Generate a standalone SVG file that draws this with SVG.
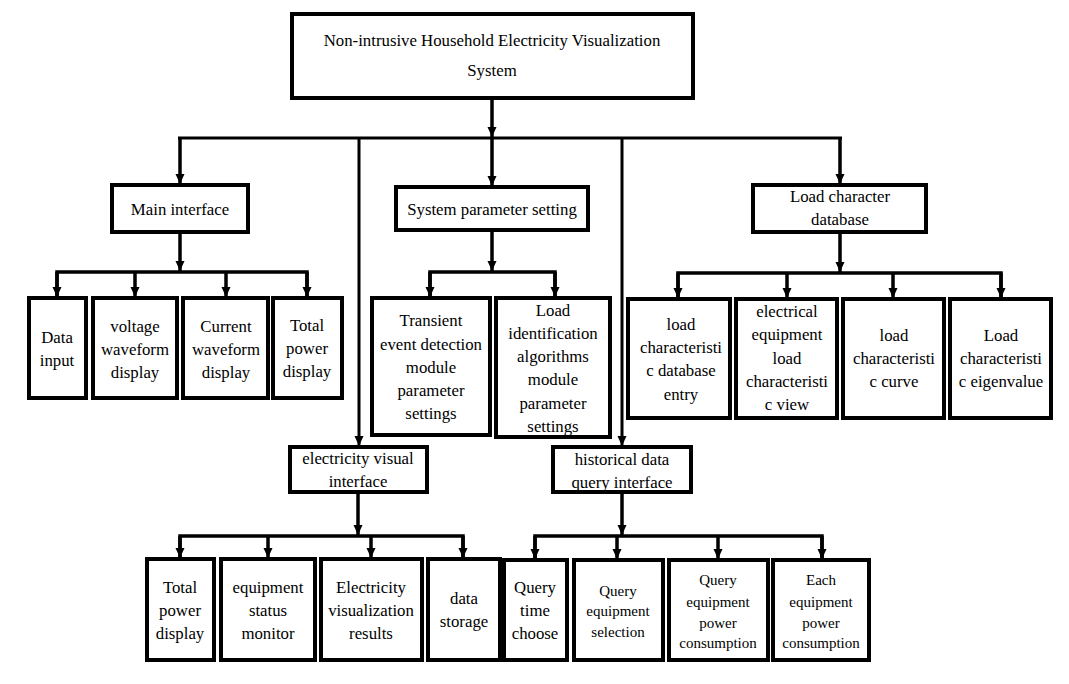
<svg xmlns="http://www.w3.org/2000/svg" width="1069" height="684" viewBox="0 0 1069 684" font-family="'Liberation Serif', 'Times New Roman', 'DejaVu Serif', serif">
<defs>
<marker id="ah" markerUnits="userSpaceOnUse" markerWidth="10" markerHeight="10" viewBox="0 0 10 10" refX="10" refY="5" orient="auto">
<path d="M0,0.5 L10,5 L0,9.5 Z" fill="#000"/>
</marker>
</defs>
<style>
.box{fill:#fff;stroke:#000;stroke-width:4}
.ln{fill:none;stroke:#000;stroke-width:3.5}
.ln2{fill:none;stroke:#000;stroke-width:3}
.ar{marker-end:url(#ah)}
text{font-family:'Liberation Serif','Times New Roman','DejaVu Serif',serif;font-size:16.8px;fill:#000;text-anchor:middle}
.s{font-size:15px}
</style>
<rect width="1069" height="684" fill="#fff"/>
<g id="connectors">
<line class="ln ar" x1="492" y1="98" x2="492" y2="137"/>
<line class="ln2" x1="178" y1="138" x2="842" y2="138"/>
<line class="ln ar" x1="180" y1="138" x2="180" y2="184"/>
<line class="ln ar" x1="492" y1="138" x2="492" y2="186"/>
<line class="ln ar" x1="840" y1="138" x2="840" y2="184"/>
<line class="ln2 ar" x1="359" y1="137" x2="359" y2="446"/>
<line class="ln2 ar" x1="622" y1="137" x2="622" y2="446"/>
<line class="ln ar" x1="180" y1="232" x2="180" y2="271"/>
<polyline class="ln" points="57,297 57,272 307,272 307,297"/>
<line class="ln ar" x1="57" y1="272" x2="57" y2="297"/>
<line class="ln ar" x1="135" y1="272" x2="135" y2="297"/>
<line class="ln ar" x1="226" y1="272" x2="226" y2="297"/>
<line class="ln ar" x1="307" y1="272" x2="307" y2="297"/>
<line class="ln ar" x1="492" y1="230" x2="492" y2="271"/>
<polyline class="ln" points="430,297 430,272 555,272 555,297"/>
<line class="ln ar" x1="430" y1="272" x2="430" y2="297"/>
<line class="ln ar" x1="555" y1="272" x2="555" y2="297"/>
<line class="ln ar" x1="840" y1="232" x2="840" y2="272"/>
<polyline class="ln" points="678,298 678,273 1001,273 1001,298"/>
<line class="ln ar" x1="678" y1="273" x2="678" y2="298"/>
<line class="ln ar" x1="787" y1="273" x2="787" y2="298"/>
<line class="ln ar" x1="893" y1="273" x2="893" y2="298"/>
<line class="ln ar" x1="1001" y1="273" x2="1001" y2="298"/>
<line class="ln ar" x1="358" y1="492" x2="358" y2="535"/>
<polyline class="ln" points="180,558 180,536 463,536 463,558"/>
<line class="ln ar" x1="180" y1="536" x2="180" y2="558"/>
<line class="ln ar" x1="268" y1="536" x2="268" y2="558"/>
<line class="ln ar" x1="371" y1="536" x2="371" y2="558"/>
<line class="ln ar" x1="463" y1="536" x2="463" y2="558"/>
<line class="ln ar" x1="622" y1="492" x2="622" y2="535"/>
<polyline class="ln" points="535,559 535,536 822,536 822,559"/>
<line class="ln ar" x1="535" y1="536" x2="535" y2="559"/>
<line class="ln ar" x1="617" y1="536" x2="617" y2="559"/>
<line class="ln ar" x1="718" y1="536" x2="718" y2="559"/>
<line class="ln ar" x1="822" y1="536" x2="822" y2="559"/>
</g>
<g id="root">
<rect class="box" x="292" y="14" width="401" height="84"/>
<text x="492" y="46">Non-intrusive Household Electricity Visualization</text>
<text x="492" y="76">System</text>
</g>
<g id="main-interface">
<rect class="box" x="112" y="185" width="136" height="47"/>
<text x="180" y="215">Main interface</text>
</g>
<g id="data-input">
<rect class="box" x="29" y="298" width="57" height="100"/>
<text x="57" y="343">Data</text>
<text x="57" y="366">input</text>
</g>
<g id="voltage-waveform">
<rect class="box" x="93" y="298" width="84" height="100"/>
<text x="135" y="332">voltage</text>
<text x="135" y="355">waveform</text>
<text x="135" y="378">display</text>
</g>
<g id="current-waveform">
<rect class="box" x="183" y="298" width="85" height="100"/>
<text x="226" y="332">Current</text>
<text x="226" y="355">waveform</text>
<text x="226" y="378">display</text>
</g>
<g id="total-power-1">
<rect class="box" x="273" y="298" width="69" height="100"/>
<text x="307" y="331">Total</text>
<text x="307" y="354">power</text>
<text x="307" y="377">display</text>
</g>
<g id="system-parameter">
<rect class="box" x="396" y="187" width="192" height="43"/>
<text x="492" y="215">System parameter setting</text>
</g>
<g id="transient">
<rect class="box" x="372" y="298" width="118" height="137"/>
<text x="431" y="326">Transient</text>
<text x="431" y="350">event detection</text>
<text x="431" y="373">module</text>
<text x="431" y="396">parameter</text>
<text x="431" y="419">settings</text>
</g>
<g id="load-identification">
<rect class="box" x="496" y="298" width="114" height="139"/>
<text x="553" y="316">Load</text>
<text x="553" y="339">identification</text>
<text x="553" y="362">algorithms</text>
<text x="553" y="385">module</text>
<text x="553" y="409">parameter</text>
<text x="553" y="432">settings</text>
</g>
<g id="load-character-db">
<rect class="box" x="753" y="185" width="173" height="47"/>
<text x="840" y="202">Load character</text>
<text x="840" y="225">database</text>
</g>
<g id="lc-db-entry">
<rect class="box" x="628" y="299" width="102" height="119"/>
<text x="681" y="330">load</text>
<text x="681" y="353">characteristi</text>
<text x="681" y="376">c database</text>
<text x="681" y="400">entry</text>
</g>
<g id="ee-lc-view">
<rect class="box" x="736" y="299" width="101" height="119"/>
<text x="787" y="317">electrical</text>
<text x="787" y="340">equipment</text>
<text x="787" y="364">load</text>
<text x="787" y="387">characteristi</text>
<text x="787" y="410">c view</text>
</g>
<g id="lc-curve">
<rect class="box" x="843" y="299" width="101" height="119"/>
<text x="894" y="341">load</text>
<text x="894" y="364">characteristi</text>
<text x="894" y="387">c curve</text>
</g>
<g id="lc-eigenvalue">
<rect class="box" x="950" y="299" width="101" height="119"/>
<text x="1001" y="341">Load</text>
<text x="1001" y="364">characteristi</text>
<text x="1001" y="387">c eigenvalue</text>
</g>
<g id="electricity-visual-interface">
<rect class="box" x="290" y="447" width="137" height="45"/>
<text x="358" y="464">electricity visual</text>
<text x="358" y="487">interface</text>
</g>
<g id="total-power-2">
<rect class="box" x="147" y="559" width="67" height="101"/>
<text x="180" y="593">Total</text>
<text x="180" y="616">power</text>
<text x="180" y="639">display</text>
</g>
<g id="equipment-status">
<rect class="box" x="221" y="559" width="94" height="101"/>
<text x="268" y="593">equipment</text>
<text x="268" y="616">status</text>
<text x="268" y="639">monitor</text>
</g>
<g id="electricity-results">
<rect class="box" x="321" y="559" width="101" height="101"/>
<text x="371" y="593">Electricity</text>
<text x="371" y="616">visualization</text>
<text x="371" y="639">results</text>
</g>
<g id="data-storage">
<rect class="box" x="428" y="559" width="72" height="101"/>
<text x="464" y="604">data</text>
<text x="464" y="627">storage</text>
</g>
<g id="historical-data-query">
<rect class="box" x="553" y="447" width="138" height="45"/>
<text x="622" y="465">historical data</text>
<text x="622" y="488">query interface</text>
</g>
<g id="query-time">
<rect class="box" x="504" y="560" width="63" height="100"/>
<text x="535" y="593">Query</text>
<text x="535" y="616">time</text>
<text x="535" y="639">choose</text>
</g>
<g id="query-equipment-selection">
<rect class="box" x="574" y="560" width="89" height="100"/>
<text class="s" x="618" y="596">Query</text>
<text class="s" x="618" y="616">equipment</text>
<text class="s" x="618" y="637">selection</text>
</g>
<g id="query-equipment-power">
<rect class="box" x="669" y="560" width="99" height="100"/>
<text class="s" x="718" y="585">Query</text>
<text class="s" x="718" y="607">equipment</text>
<text class="s" x="718" y="628">power</text>
<text class="s" x="718" y="648">consumption</text>
</g>
<g id="each-equipment-power">
<rect class="box" x="773" y="560" width="96" height="100"/>
<text class="s" x="821" y="585">Each</text>
<text class="s" x="821" y="607">equipment</text>
<text class="s" x="821" y="628">power</text>
<text class="s" x="821" y="648">consumption</text>
</g>
</svg>
